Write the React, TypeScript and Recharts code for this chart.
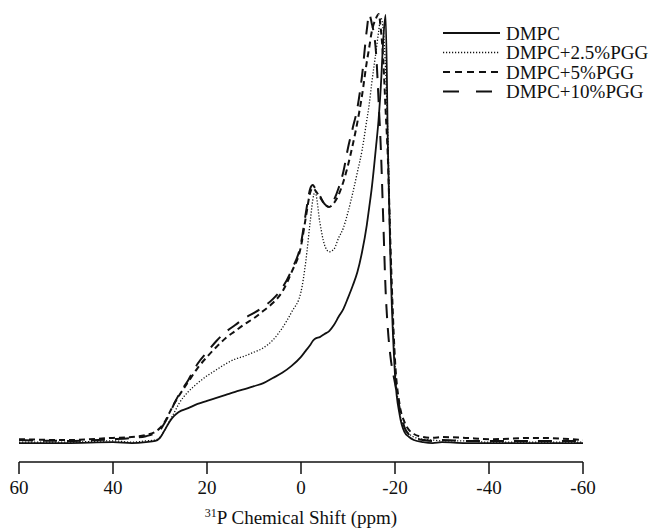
import React from 'react';
import { LineChart, Line, XAxis, YAxis, Legend } from 'recharts';

// chemical shift grid (ppm), shared by all spectra
const shifts = [
  60, 50, 40, 36, 33, 31, 30, 29, 28, 27, 26, 24, 22, 20, 18, 16, 14, 12, 10, 8, 6, 4, 2, 0,
  -1, -2, -2.5, -3, -4, -5, -6, -7, -8, -9, -10, -11, -12, -13, -14, -14.5, -15, -16, -16.5,
  -17, -17.5, -18, -18.5, -19, -20, -21, -22, -23, -24, -26, -28, -30, -35, -40, -50, -60
];

// normalised intensities
const dmpc = [
  0.4, 0.4, 0.6, 0.4, 0.6, 0.9, 1.6, 3.4, 5.3, 6.7, 7.6, 8.5, 9.5, 10.2, 10.9, 11.6, 12.3, 12.9, 13.6, 14.3, 15.5, 16.7, 18.3, 20.4,
  21.8, 23.2, 24.1, 24.6, 25.0, 25.7, 26.4, 27.8, 29.7, 31.5, 34.1, 36.9, 40.1, 44.8, 51.0, 55.0, 59.1, 69.6, 75.4,
  83.5, 94.0, 99.8, 68.4, 44.1, 16.2, 6.9, 3.0, 1.8, 1.1, 0.6, 0.4, 0.6, 0.4, 0.4, 0.4, 0.4
];
const pgg25 = [
  0.6, 0.6, 0.9, 0.6, 0.9, 1.1, 1.8, 3.4, 5.5, 7.4, 9.5, 12.3, 14.3, 16.0, 17.4, 18.8, 19.9, 20.6, 21.5, 22.5, 24.3, 27.1, 30.8, 35.5,
  42.4, 52.2, 56.8, 58.7, 51.7, 46.4, 44.8, 45.4, 48.0, 50.3, 54.0, 58.4, 63.3, 68.4, 75.4, 78.9, 83.5, 91.6, 95.8,
  99.1, 96.3, 87.0, 70.8, 47.5, 18.5, 7.6, 3.9, 2.5, 1.8, 1.3, 1.1, 0.9, 0.9, 0.6, 0.6, 0.6
];
const pgg5 = [
  1.3, 1.1, 1.6, 1.8, 2.3, 3.0, 3.9, 5.3, 7.4, 9.5, 11.3, 14.6, 17.8, 20.4, 22.7, 24.8, 26.4, 28.0, 29.4, 31.1, 32.9, 35.5, 40.1, 46.1,
  52.6, 58.7, 59.6, 59.1, 57.5, 55.9, 55.2, 56.1, 58.0, 61.0, 64.9, 69.6, 74.9, 81.2, 88.9, 92.1, 95.6, 99.1, 100,
  96.3, 89.3, 77.7, 66.1, 47.5, 19.7, 9.2, 5.3, 3.4, 2.5, 1.8, 1.6, 1.8, 1.6, 1.3, 1.6, 1.1
];
const pgg10 = [
  1.1, 0.9, 1.3, 1.6, 2.0, 2.7, 3.4, 5.1, 7.1, 9.5, 11.6, 15.0, 18.8, 21.5, 24.1, 26.2, 27.8, 29.4, 30.6, 32.0, 33.8, 36.4, 40.6, 46.8,
  53.6, 59.6, 60.3, 59.6, 57.8, 55.9, 55.2, 56.8, 59.6, 63.3, 68.9, 73.5, 78.2, 85.8, 96.3, 100, 98.1, 90.5, 80.0,
  68.4, 52.2, 35.9, 26.6, 20.8, 14.3, 8.5, 4.1, 2.3, 1.6, 1.1, 0.9, 1.1, 0.9, 0.9, 0.9, 0.9
];

const xTicks = [60, 40, 20, 0, -20, -40, -60];

const FONT = 'Liberation Serif, Times New Roman, DejaVu Serif, serif';

const SERIES = [
  { key: 'dmpc', name: 'DMPC', dash: undefined, width: 1.8, legendDash: undefined },
  { key: 'pgg25', name: 'DMPC+2.5%PGG', dash: '1.2 1.8', width: 1.3, legendDash: '1.2 1.8' },
  { key: 'pgg5', name: 'DMPC+5%PGG', dash: '6 4', width: 2, legendDash: '7 5' },
  { key: 'pgg10', name: 'DMPC+10%PGG', dash: '14 10', width: 2, legendDash: '16 17' },
];

const data = shifts.map((ppm, i) => ({
  ppm,
  dmpc: dmpc[i],
  pgg25: pgg25[i],
  pgg5: pgg5[i],
  pgg10: pgg10[i],
}));

const AxisTitle = (props: any) => {
  const vb = props.viewBox || { x: 19, y: 462, width: 564 };
  const cx = vb.x + vb.width / 2;
  return (
    <text x={cx} y={vb.y + 62} textAnchor="middle" style={{ fontFamily: FONT }} fontSize={19} fill="#111">
      <tspan fontSize={12} dy={-7}>31</tspan>
      <tspan dy={7}>P Chemical Shift (ppm)</tspan>
    </text>
  );
};

const LegendBox = () => (
  <svg width={213} height={84} style={{ fontFamily: FONT }}>
    {SERIES.map((s, i) => {
      const cy = 11 + i * 19.5;
      return (
        <g key={s.key}>
          <line x1={3} x2={60} y1={cy} y2={cy} stroke="#111" strokeWidth={s.width} strokeDasharray={s.legendDash} />
          <text x={66} y={cy + 6.5} style={{ fontFamily: FONT }} fontSize={19} fill="#111">{s.name}</text>
        </g>
      );
    })}
  </svg>
);

export default function App() {
  return (
    <div style={{ position: 'absolute', left: 0, top: 0, background: '#fff', fontFamily: FONT }}>
      <LineChart width={653} height={529} data={data} margin={{ top: 14, right: 70, bottom: 0, left: 19 }}
        style={{ fontFamily: FONT }}>
        <XAxis
          dataKey="ppm"
          type="number"
          domain={[-60, 60]}
          reversed
          ticks={xTicks}
          tickSize={12}
          tickMargin={7}
          height={67}
          stroke="#111"
          axisLine={{ stroke: '#111', strokeWidth: 1.5 }}
          tickLine={{ stroke: '#111', strokeWidth: 1.5 }}
          tick={{ fill: '#111', fontSize: 19, style: { fontFamily: FONT } }}
          label={<AxisTitle />}
        />
        <YAxis hide domain={[-4, 100]} />
        <Legend
          layout="vertical"
          align="center"
          verticalAlign="middle"
          content={<LegendBox />}
          wrapperStyle={{ left: 440, top: 22, width: 213, height: 84 }}
        />
        {SERIES.map((s) => (
          <Line
            key={s.key}
            dataKey={s.key}
            name={s.name}
            type="monotone"
            stroke="#111"
            strokeWidth={s.width}
            strokeDasharray={s.dash}
            dot={false}
            activeDot={false}
            isAnimationActive={false}
          />
        ))}
      </LineChart>
    </div>
  );
}
